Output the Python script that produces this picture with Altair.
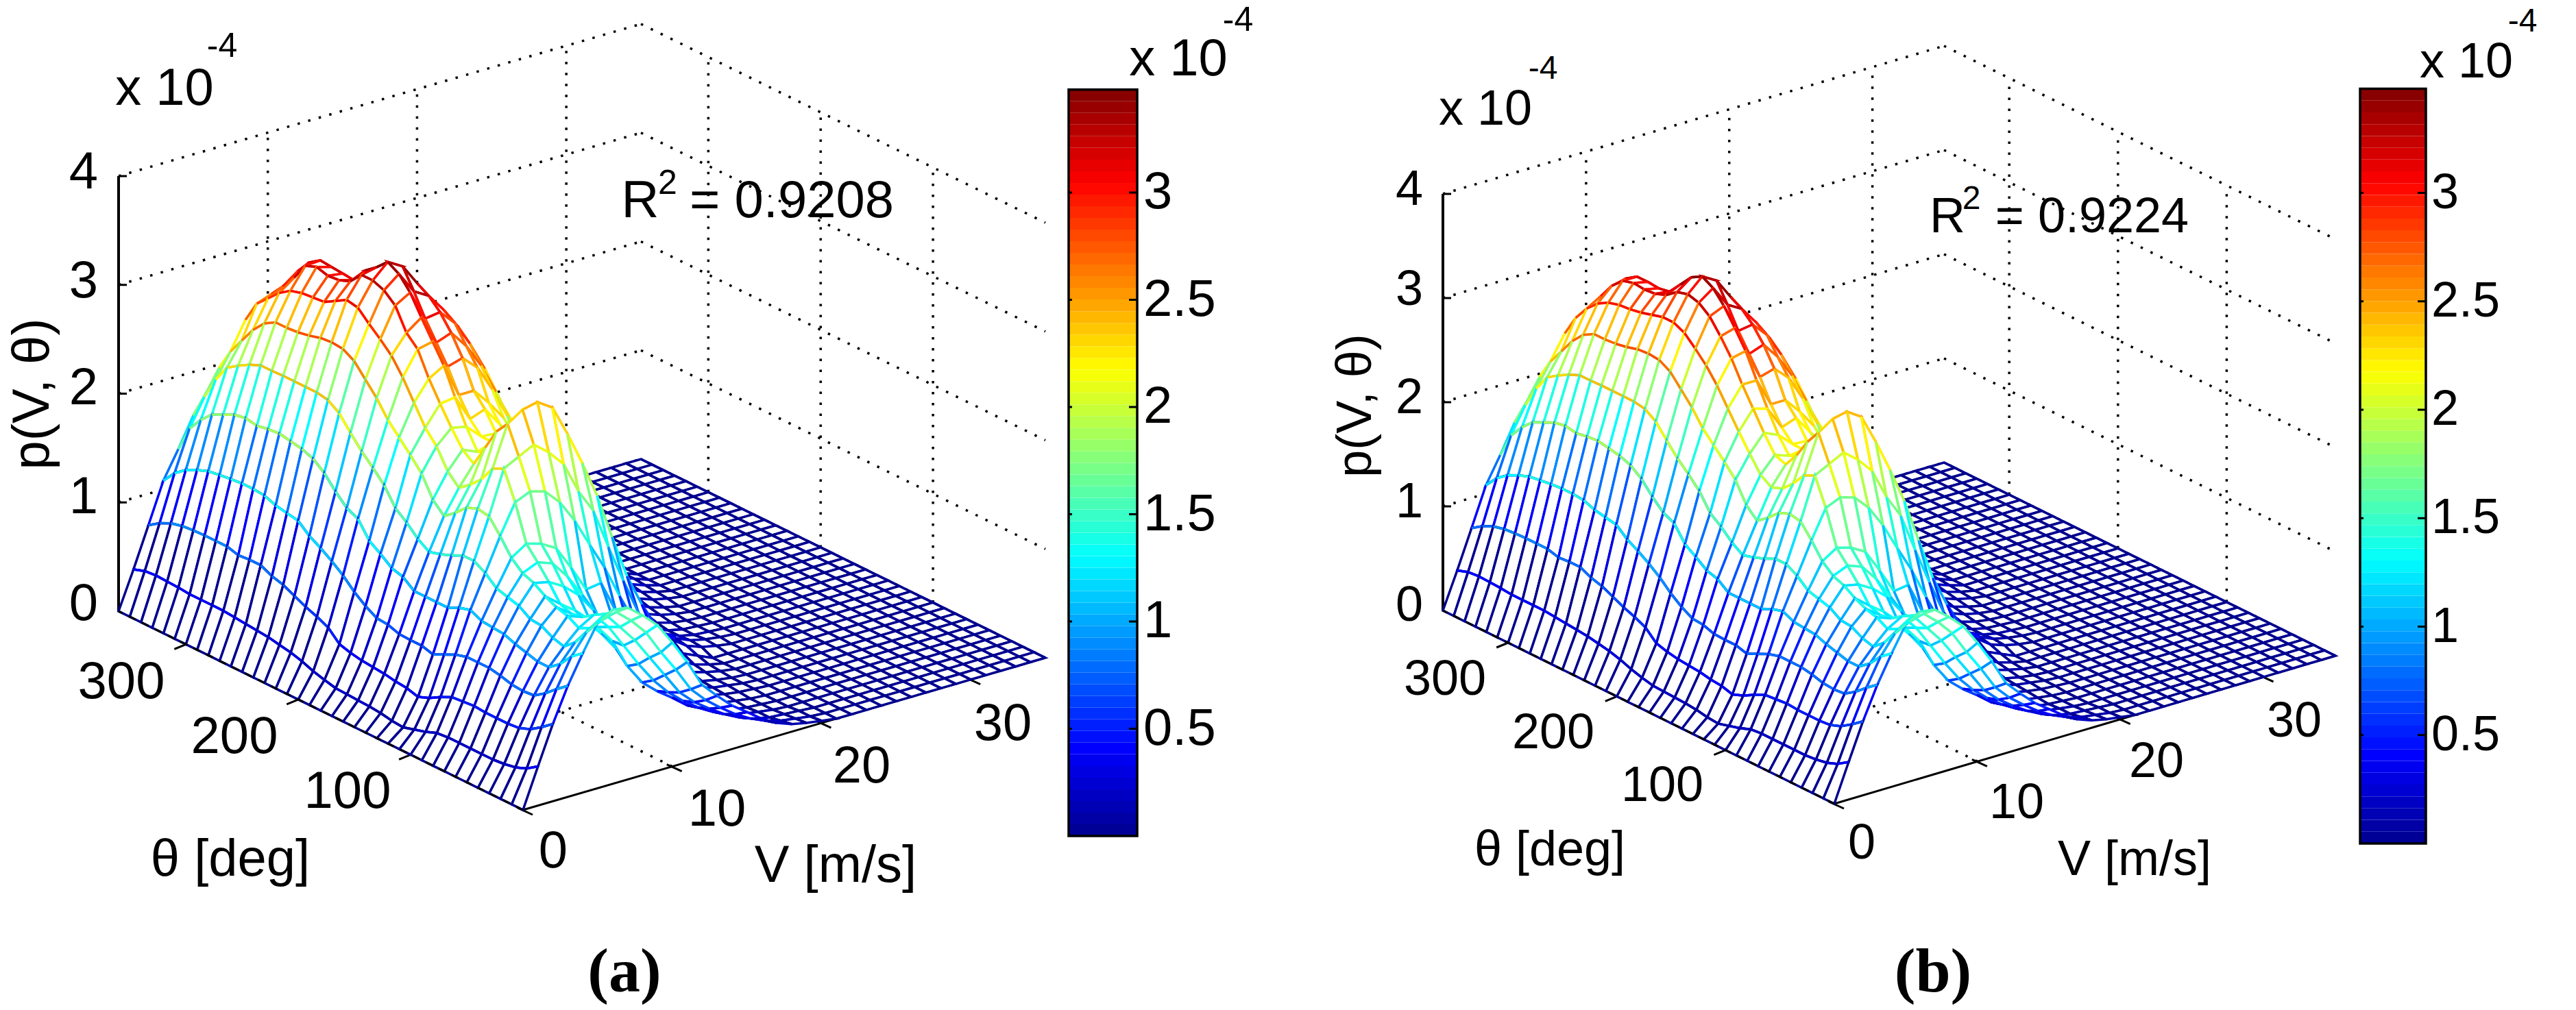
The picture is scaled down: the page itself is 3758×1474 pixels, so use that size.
import altair as alt
import pandas as pd

alt.data_transformers.disable_max_rows()

V_GRID = list(range(36))
TH_GRID = list(range(0, 370, 10))
CLIM = 3.48

# p(V, theta) in units of 1e-4, one row per V (0, 1, 2 ... m/s), one column per theta (0, 10 ... 360 deg)
Z_A = [
 [0]*37,
 [.36,.29,.25,.23,.22,.22,.22,.22,.22,.21,.17,.14,.11,.12,.14,.15,.155,.16,.165,.19,.22,.26,.29,.31,.33,.34,.35,.36,.37,.37,.37,.37,.38,.385,.39,.38,.345],
 [.71,.63,.56,.52,.51,.51,.51,.52,.51,.50,.45,.39,.35,.38,.39,.41,.42,.43,.45,.48,.58,.63,.67,.72,.77,.80,.85,.85,.84,.87,.87,.87,.865,.855,.83,.78,.71],
 [1.02,.94,.85,.78,.77,.78,.81,.83,.83,.83,.80,.75,.70,.73,.73,.735,.77,.78,.84,.92,1.02,1.10,1.17,1.23,1.32,1.34,1.36,1.40,1.41,1.41,1.40,1.385,1.37,1.33,1.28,1.20,1.08],
 [1.28,1.2,1.08,1.0,1.0,1.03,1.06,1.10,1.11,1.12,1.17,1.14,1.09,1.09,1.09,1.09,1.17,1.20,1.28,1.35,1.50,1.55,1.65,1.77,1.85,1.89,1.91,1.93,1.92,1.90,1.92,1.90,1.85,1.80,1.70,1.57,1.33],
 [1.52,1.38,1.24,1.15,1.18,1.24,1.25,1.32,1.35,1.38,1.47,1.53,1.53,1.48,1.44,1.41,1.48,1.58,1.66,1.82,1.93,2.03,2.15,2.28,2.35,2.37,2.37,2.37,2.37,2.365,2.365,2.32,2.26,2.19,2.03,1.82,1.6],
 [1.60,1.45,1.33,1.28,1.34,1.37,1.42,1.49,1.53,1.62,1.77,1.90,1.92,1.88,1.78,1.70,1.80,1.99,2.11,2.22,2.33,2.48,2.60,2.72,2.78,2.79,2.78,2.75,2.73,2.72,2.72,2.66,2.55,2.4,2.25,2.05,1.8],
 [1.58,1.49,1.42,1.36,1.29,1.27,1.31,1.46,1.59,1.71,2.04,2.30,2.25,2.10,2.0,1.92,2.02,2.2,2.32,2.5,2.68,2.83,2.93,3.02,3.12,3.14,3.08,3.02,3.01,3.0,2.97,2.9,2.8,2.7,2.5,2.2,1.95],
 [1.47,1.37,1.26,1.21,1.16,1.16,1.21,1.38,1.54,1.67,2.10,2.37,2.62,2.5,2.3,2.1,2.18,2.33,2.5,2.68,2.9,3.0,3.2,3.29,3.33,3.33,3.22,3.18,3.17,3.2,3.16,3.0,2.87,2.75,2.6,2.4,2.2],
 [1.34,1.22,1.1,1.0,.99,1.01,1.08,1.26,1.38,1.59,2.06,2.44,2.71,2.5,2.3,2.18,2.12,2.3,2.52,2.76,2.93,3.1,3.28,3.4,3.46,3.36,3.28,3.14,3.15,3.16,3.17,3.1,2.97,2.8,2.66,2.52,2.3],
 [1.14,1.0,.9,.79,.72,.83,.91,1.08,1.17,1.37,1.92,2.33,2.74,2.55,2.35,2.22,2.17,2.17,2.28,2.45,2.66,2.83,3.0,3.2,3.38,3.3,3.2,3.05,3.0,2.95,2.95,2.88,2.77,2.63,2.5,2.4,2.2],
 [.92,.8,.7,.6,.53,.6,.7,.85,.95,1.13,1.71,2.18,2.65,2.45,2.3,2.15,2.1,2.16,2.33,2.45,2.7,2.88,3.02,3.12,3.18,3.1,3.0,2.9,2.8,2.75,2.7,2.6,2.5,2.35,2.25,2.1,1.95],
 [.67,.58,.5,.45,.41,.45,.6,.75,.89,1.15,1.45,1.89,2.37,2.2,2.05,1.98,1.98,2.05,2.15,2.3,2.57,2.72,2.88,2.95,2.97,2.9,2.8,2.7,2.6,2.52,2.45,2.35,2.2,2.05,1.92,1.78,1.6],
 [.53,.44,.37,.33,.31,.38,.47,.55,.65,.85,1.2,1.67,2.06,1.95,1.85,1.8,1.82,1.9,2.0,2.12,2.33,2.5,2.65,2.75,2.79,2.72,2.6,2.5,2.4,2.35,2.3,2.15,2.0,1.8,1.62,1.45,1.3],
 [.40,.33,.27,.23,.20,.26,.32,.40,.47,.60,.9,1.3,1.72,1.6,1.5,1.45,1.48,1.55,1.65,1.85,2.05,2.22,2.38,2.48,2.54,2.45,2.33,2.22,2.12,2.06,2.0,1.85,1.7,1.52,1.35,1.18,1.0],
 [.30,.23,.18,.15,.13,.17,.22,.27,.32,.42,.62,.95,1.3,1.25,1.15,1.12,1.14,1.2,1.3,1.55,1.72,1.9,2.05,2.15,2.2,2.12,2.0,1.9,1.8,1.75,1.7,1.55,1.38,1.22,1.05,.88,.72],
 [.20,.15,.11,.09,.08,.10,.13,.17,.20,.27,.40,.62,.90,.9,.85,.82,.84,.9,1.05,1.25,1.42,1.62,1.78,1.9,1.98,1.85,1.72,1.6,1.5,1.45,1.4,1.25,1.08,.92,.78,.63,.5],
 [.12,.09,.06,.05,.04,.05,.07,.09,.12,.16,.25,.4,.6,.62,.58,.56,.57,.62,.78,.95,1.15,1.33,1.5,1.62,1.7,1.55,1.42,1.3,1.22,1.15,1.1,.95,.8,.68,.55,.43,.32],
 [.07,.05,.03,.03,.02,.03,.04,.05,.06,.09,.14,.22,.35,.38,.36,.35,.36,.42,.55,.7,.88,1.05,1.2,1.3,1.35,1.22,1.12,1.02,.95,.9,.85,.72,.6,.48,.38,.28,.19],
 [.04,.03,.02,.01,.01,.01,.02,.03,.03,.05,.07,.12,.2,.22,.21,.2,.22,.28,.38,.5,.65,.78,.9,.98,1.0,.92,.85,.75,.7,.66,.62,.52,.42,.33,.25,.17,.1],
 [.02,.01,.01,0,0,0,.01,.01,.01,.02,.03,.06,.1,.12,.11,.1,.12,.17,.24,.32,.45,.55,.63,.68,.7,.65,.6,.54,.5,.46,.42,.35,.28,.2,.14,.09,.05],
 [0]*12 + [.05,.06,.05,.05,.07,.1,.14,.18,.28,.35,.4,.44,.45,.4,.36,.33,.3,.28,.25,.2,.16,.11,.08,.05,.03],
 [0]*12 + [.02,.03,.02,.02,.03,.05,.07,.1,.15,.2,.23,.25,.25,.22,.2,.18,.16,.15,.13,.1,.08,.06,.04,.02,.01],
 [0]*12 + [0,.01,.01,.01,.01,.02,.03,.05,.07,.09,.1,.12,.12,.1,.09,.08,.07,.06,.05,.04,.03,.02,.01,.01,0],
 [0]*12 + [0,0,0,0,0,0,0,.02,.03,.04,.05,.05,.05,.05,.04,.03,.03,.02,.02,.01,.01,.01,0,0,0],
] + [[0]*37 for _ in range(11)]

# the second fit differs from the first mainly on its crest
Z_B = [list(row) for row in Z_A]
Z_B[7] = [1.58,1.49,1.42,1.36,1.29,1.27,1.31,1.46,1.59,1.71,2.04,2.30,2.25,2.12,2.02,1.98,2.05,2.2,2.36,2.53,2.7,2.84,2.95,3.05,3.1,3.1,3.07,3.04,3.02,3.01,2.98,2.92,2.82,2.68,2.48,2.2,1.95]
Z_B[8] = [1.47,1.37,1.26,1.21,1.16,1.16,1.21,1.38,1.54,1.67,2.10,2.37,2.62,2.48,2.3,2.16,2.2,2.36,2.54,2.72,2.92,3.08,3.22,3.3,3.33,3.3,3.22,3.18,3.17,3.18,3.15,3.05,2.9,2.75,2.58,2.38,2.2]
Z_B[9] = [1.34,1.22,1.1,1.0,.99,1.01,1.08,1.26,1.38,1.59,2.06,2.44,2.71,2.55,2.35,2.2,2.15,2.3,2.5,2.72,2.95,3.12,3.28,3.4,3.46,3.4,3.28,3.16,3.14,3.15,3.15,3.08,2.97,2.82,2.68,2.55,2.35]

Z_TICKS = [0, 1, 2, 3, 4]
V_TICKS = [0, 10, 20, 30]
TH_TICKS = [100, 200, 300]
CB_TICKS = [0.5, 1, 1.5, 2, 2.5, 3]
CB_LABELS = ["0.5", "1", "1.5", "2", "2.5", "3"]

PANELS = {
 "a": dict(L=(173, 892), O=(763, 1182), R=(1525, 960), zs=158.75, Z=Z_A,
           cb=(1559, 1659), cb0=1220, cbs=313, cbx=1668),
 "b": dict(L=(2105, 891), O=(2676, 1173), R=(3407, 957), zs=152, Z=Z_B,
           cb=(3443, 3539), cb0=1231, cbs=316.5, cbx=3547),
}

TEXTS = [
 # x, y, text, size
 (122,252,"4",76),(122,411,"3",76),(122,567,"2",76),(122,726,"1",76),(122,882,"0",76),
 (177,996,"300",76),(342,1076,"200",76),(507,1156,"100",76),
 (807,1243,"0",76),(1046,1182,"10",76),(1257,1119,"20",76),(1463,1057,"30",76),
 (336,1255,"θ [deg]",76),(1219,1264,"V [m/s]",76),
 (240,130,"x 10",76),(324,68,"-4",50),
 (934,294,"R",76),(1155,294,"= 0.9208",76),(974,268,"2",50),
 (1719,87,"x 10",76),(1806,30,"-4",50),
 (2056,277,"4",72),(2056,423,"3",72),(2056,581,"2",72),(2056,733,"1",72),(2056,884,"0",72),
 (2108,992,"300",72),(2266,1070,"200",72),(2425,1147,"100",72),
 (2716,1231,"0",72),(2942,1172,"10",72),(3146,1112,"20",72),(3347,1053,"30",72),
 (2261,1241,"θ [deg]",72),(3114,1255,"V [m/s]",72),
 (2167,160,"x 10",72),(2251,101,"-4",48),
 (2841,317,"R",72),(3052,317,"= 0.9224",72),(2876,291,"2",48),
 (3598,91,"x 10",72),(3680,32,"-4",48),
]
ROT_TEXTS = [(48,575,"p(V, θ)",76),(1978,592,"p(V, θ)",72)]
CAPTIONS = [(911,1419,"(a)"),(2820,1419,"(b)")]

W, H = 3742, 1458
sx = alt.Scale(domain=[8, 8+W], nice=False, zero=False)
sy = alt.Scale(domain=[8+H, 8], nice=False, zero=False)
X = alt.X("x:Q", scale=sx, axis=None)
Y = alt.Y("y:Q", scale=sy, axis=None)
JET = alt.Scale(domain=[0, CLIM*.117, CLIM*.375, CLIM*.625, CLIM*.875, CLIM],
                range=["#00008f", "#0000ff", "#00ffff", "#ffff00", "#ff0000", "#800000"],
                interpolate="rgb", clamp=True)


def projector(p):
    (lx, ly), (ox, oy), (rx, ry), zs = p["L"], p["O"], p["R"], p["zs"]
    def f(v, th, z=0):
        return (ox + v*(rx-ox)/35 + th*(lx-ox)/360,
                oy + v*(ry-oy)/35 + th*(ly-oy)/360 - z*zs)
    return f


mesh, dots, solid, thick, dashed, cb_cells, cb_frames, cb_text = [], [], [], [], [], [], [], []
g = 0
h = 0


def seg(store, a, b):
    global h
    h += 1
    store.append(dict(x=a[0], y=a[1], g=h, k=0))
    store.append(dict(x=b[0], y=b[1], g=h, k=1))


for p in PANELS.values():
    P = projector(p)
    Z = p["Z"]
    for z in Z_TICKS[1:]:
        seg(dots, P(0, 360, z), P(35, 360, z))
        seg(dots, P(35, 360, z), P(35, 0, z))
    for v in V_TICKS[1:]:
        seg(dots, P(v, 360, 0), P(v, 360, 4))
        seg(dots, P(v, 0, 0), P(v, 360, 0))
    for th in TH_TICKS:
        seg(dots, P(35, th, 0), P(35, th, 4))
        seg(dots, P(0, th, 0), P(35, th, 0))
    seg(dots, P(35, 0, 0), P(35, 360, 0))
    seg(dots, P(0, 360, 0), P(35, 360, 0))

    seg(thick, P(0, 360, 0), P(0, 360, 4))
    seg(solid, P(0, 0), P(35, 0))
    seg(solid, P(0, 0), P(0, 360))
    seg(dashed, P(0, 0), P(0, 360))
    for z in Z_TICKS:
        a = P(0, 360, z)
        seg(solid, a, (a[0]+12, a[1]))
    for th in TH_TICKS:
        a = P(0, th)
        seg(solid, a, (a[0]-17, a[1]+7))
    for v in V_TICKS:
        a = P(v, 0)
        seg(solid, (a[0]-8, a[1]-3), (a[0]+14, a[1]+7))

    for i in range(len(V_GRID)-2, -1, -1):
        for j in range(len(TH_GRID)-2, -1, -1):
            v0, v1, t0, t1 = V_GRID[i], V_GRID[i+1], TH_GRID[j], TH_GRID[j+1]
            g += 1
            c = Z[max(i-1, 0)][j]
            corners = [P(v0, t0, Z[i][j]), P(v1, t0, Z[i+1][j]), P(v1, t1, Z[i+1][j+1]), P(v0, t1, Z[i][j+1])]
            for k, q in enumerate(corners):
                mesh.append(dict(x=q[0], y=q[1], g=g, k=k, c=c))
            g += 1
            for k, q in enumerate([corners[1], corners[2]]):
                mesh.append(dict(x=q[0], y=q[1], g=g, k=k, c=Z[i+1][j]))

    x0, x1 = p["cb"]
    n = 64
    for m in range(n):
        val0, val1 = m*CLIM/n, (m+1)*CLIM/n
        cb_cells.append(dict(x=x0, x2=x1, y=p["cb0"]-val0*p["cbs"], y2=p["cb0"]-val1*p["cbs"], c=(m+.5)*CLIM/n))
    cb_frames.append(dict(x=x0, x2=x1, y=p["cb0"], y2=p["cb0"]-CLIM*p["cbs"]))
    for tv, tl in zip(CB_TICKS, CB_LABELS):
        yy = p["cb0"]-tv*p["cbs"]
        cb_text.append(dict(x=p["cbx"], y=yy, t=tl, s=76 if x0 < 2000 else 72))

cb_tick_segs = []
for p in PANELS.values():
    x0, x1 = p["cb"]
    for tv in CB_TICKS:
        yy = p["cb0"]-tv*p["cbs"]
        seg(cb_tick_segs, (x0, yy), (x0+5, yy))
        seg(cb_tick_segs, (x1-12, yy), (x1, yy))

df_mesh = pd.DataFrame(mesh).round(1)
layers = []
layers.append(alt.Chart(pd.DataFrame(dots)).mark_line(color="black", strokeWidth=3.5, strokeDash=[3.5, 12.5]).encode(
    x=X, y=Y, detail="g:N", order="k:Q"))
layers.append(alt.Chart(pd.DataFrame(solid)).mark_line(color="black", strokeWidth=3).encode(
    x=X, y=Y, detail="g:N", order="k:Q"))
layers.append(alt.Chart(pd.DataFrame(thick)).mark_line(color="black", strokeWidth=4).encode(
    x=X, y=Y, detail="g:N", order="k:Q"))
layers.append(alt.Chart(df_mesh).mark_line(interpolate="linear-closed", fill="white", strokeWidth=3.5).encode(
    x=X, y=Y, detail="g:N", order="k:Q",
    color=alt.Color("c:Q", scale=JET, legend=None)))
layers.append(alt.Chart(pd.DataFrame(dashed)).mark_line(color="black", strokeWidth=3, strokeDash=[11, 10]).encode(
    x=X, y=Y, detail="g:N", order="k:Q"))
layers.append(alt.Chart(pd.DataFrame(cb_cells)).mark_rect().encode(
    x=X, x2="x2:Q", y=Y, y2="y2:Q", color=alt.Color("c:Q", scale=JET, legend=None)))
layers.append(alt.Chart(pd.DataFrame(cb_frames)).mark_rect(fillOpacity=0, stroke="black", strokeWidth=3.5).encode(
    x=X, x2="x2:Q", y=Y, y2="y2:Q"))
layers.append(alt.Chart(pd.DataFrame(cb_tick_segs)).mark_line(color="black", strokeWidth=3).encode(
    x=X, y=Y, detail="g:N", order="k:Q"))
df_t = pd.DataFrame(TEXTS, columns=["x", "y", "t", "s"])
layers.append(alt.Chart(df_t).mark_text(font="Liberation Sans", color="black", baseline="middle", align="center").encode(
    x=X, y=Y, text="t:N", size=alt.Size("s:Q", scale=None, legend=None)))
layers.append(alt.Chart(pd.DataFrame(cb_text)).mark_text(font="Liberation Sans", color="black", baseline="middle", align="left").encode(
    x=X, y=Y, text="t:N", size=alt.Size("s:Q", scale=None, legend=None)))
layers.append(alt.Chart(pd.DataFrame(ROT_TEXTS, columns=["x", "y", "t", "s"])).mark_text(
    font="Liberation Sans", color="black", baseline="middle", align="center", angle=270).encode(
    x=X, y=Y, text="t:N", size=alt.Size("s:Q", scale=None, legend=None)))
layers.append(alt.Chart(pd.DataFrame(CAPTIONS, columns=["x", "y", "t"])).mark_text(
    font="Liberation Serif", fontWeight="bold", fontSize=92, color="black", baseline="middle", align="center").encode(
    x=X, y=Y, text="t:N"))

chart = alt.layer(*layers).properties(
    width=W, height=H, padding=0, background="white", autosize=alt.AutoSizeParams(type="none"),
).configure_view(stroke=None)

chart.save("out.html", embed_options={"renderer": "svg", "actions": False})
